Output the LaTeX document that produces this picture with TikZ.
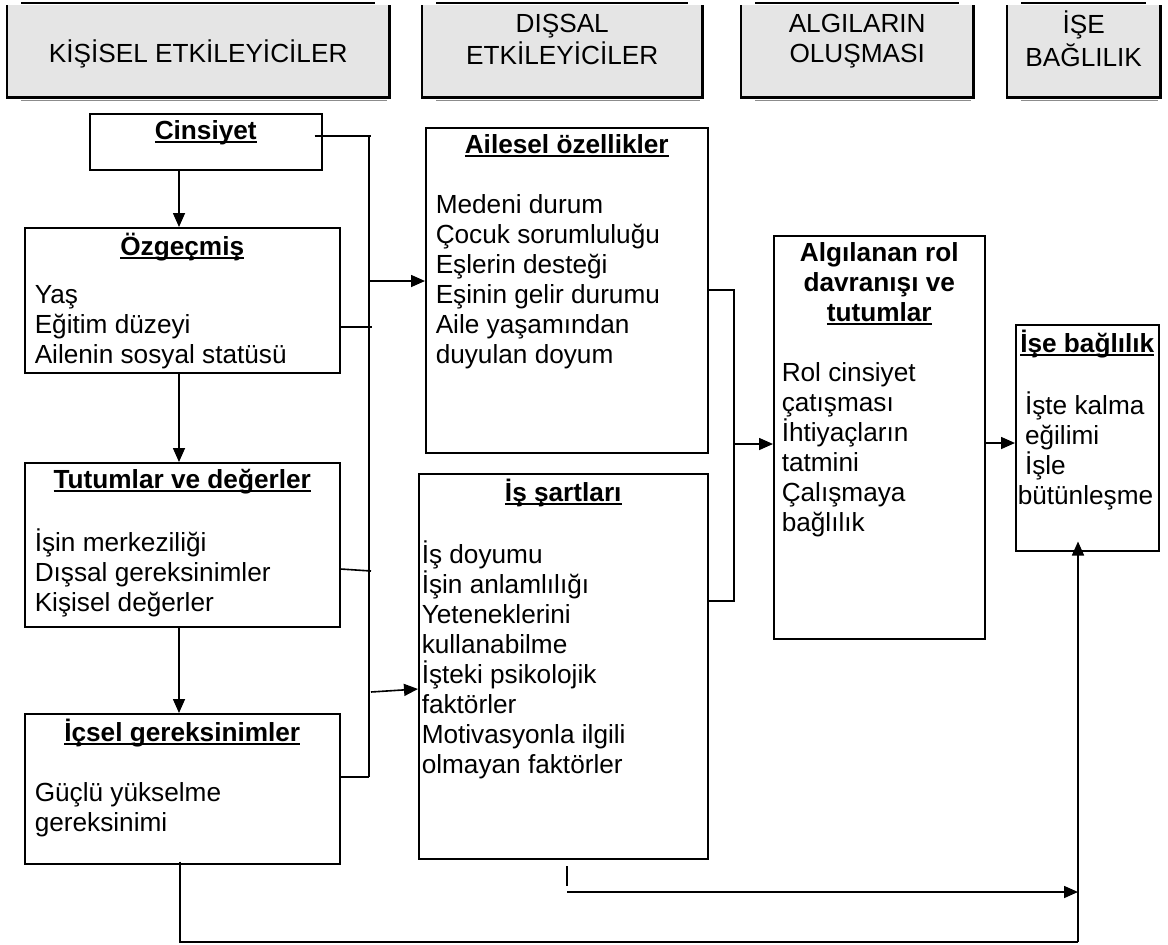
\documentclass[tikz,border=0pt]{standalone}
\usepackage{fontspec}
\setmainfont{Liberation Sans}
\usetikzlibrary{arrows.meta}

% body font: one size, fixed line spacing
\newcommand\bodyfont{\fontsize{26.2}{30}\selectfont}
% thick underline for the box titles
\newcommand\ult[1]{\setbox0\hbox{#1}\rlap{\rule[-3.5pt]{\wd0}{2pt}}\box0}
% fixed-size text area, content from the top
\newcommand\bxc[3]{\parbox[c][#2][t]{#1}{#3}}
% title line and body block inside a box
\newcommand\btitle[1]{\vspace*{5pt}{\centering\strut\textbf{#1}\par}}
\newcommand\bbodyg[3]{\vspace{#1}{\raggedright\leftskip=#2\parindent=0pt #3\par}}
\newcommand\bbody[2]{\bbodyg{30pt}{#1}{#2}}

\tikzset{
  every node/.style={font=\bodyfont},
  box/.style={draw, line width=1.5pt, inner sep=0pt, anchor=north west},
  hdr/.style={fill=black!10, inner sep=0pt, anchor=north west},
  hline/.style={line width=2.4pt},
  conn/.style={line width=1.6pt},
  arr/.style={line width=1.6pt, -{Triangle[length=14pt,width=12pt]}},
}

\begin{document}
\begin{tikzpicture}[x=1pt, y=-1pt]
\useasboundingbox (0,0) rectangle (1168,945);

% ---- column headers ----
\node[hdr] (h1) at (7,5) {\bxc{382pt}{92pt}{\vspace*{35pt}\centering\strut KİŞİSEL ETKİLEYİCİLER\par}};
\node[hdr] (h2) at (422,5) {\bxc{280pt}{92pt}{\vspace*{6pt}\centering\strut DIŞSAL\\\strut ETKİLEYİCİLER\par}};
\node[hdr] (h3) at (741,5) {\bxc{232pt}{92pt}{\vspace*{6pt}\centering\strut ALGILARIN\\\strut OLUŞMASI\par}};
\node[hdr] (h4) at (1007,5) {\bxc{153pt}{92pt}{\vspace*{6pt}\centering\strut İŞE\\\strut BAĞLILIK\par}};
\foreach \h in {h1,h2,h3,h4}{
  \draw[hline] ([xshift=14pt,yshift=2pt]\h.north west) -- ([xshift=-14pt,yshift=2pt]\h.north east);
  \draw[hline] (\h.north west) -- (\h.south west) -- (\h.south east) -- (\h.north east);
  \draw[line width=1.5pt, black!45] ([xshift=14pt,yshift=-3pt]\h.south west) -- ([xshift=-2pt,yshift=-3pt]\h.south east);
}

% ---- personal factors ----
\node[box] (cins) at (89,113) {\bxc{232pt}{56pt}{\btitle{\ult{Cinsiyet}}}};
\node[box] (ozg) at (24,227) {\bxc{315pt}{145pt}{\btitle{\ult{Özgeçmiş}}\bbodyg{18pt}{10pt}{Yaş\\Eğitim düzeyi\\Ailenin sosyal statüsü}}};
\node[box] (tut) at (24,462) {\bxc{315pt}{164pt}{\btitle{\ult{Tutumlar ve değerler}}\bbody{10pt}{İşin merkeziliği\\Dışsal gereksinimler\\Kişisel değerler}}};
\node[box] (ics) at (24,713) {\bxc{315pt}{150pt}{\btitle{\ult{İçsel gereksinimler}}\bbody{10pt}{Güçlü yükselme\\gereksinimi}}};

% ---- external factors ----
\node[box] (ail) at (425,127) {\bxc{282pt}{325pt}{\btitle{\ult{Ailesel özellikler}}\bbody{10pt}{Medeni durum\\Çocuk sorumluluğu\\Eşlerin desteği\\Eşinin gelir durumu\\Aile yaşamından\\duyulan doyum}}};
\node[box] (isart) at (418,473) {\bxc{289pt}{385pt}{\btitle{\ult{İş şartları}}\bbody{3pt}{İş doyumu\\İşin anlamlılığı\\Yeteneklerini\\kullanabilme\\İşteki psikolojik\\faktörler\\Motivasyonla ilgili\\olmayan faktörler}}};

% ---- perceptions ----
\node[box] (alg) at (773,235) {\bxc{211pt}{403pt}{\vspace*{5pt}{\centering\bfseries\strut Algılanan rol\\\strut davranışı ve\\\strut\ult{tutumlar}\par}\bbody{8pt}{Rol cinsiyet\\çatışması\\İhtiyaçların\\tatmini\\Çalışmaya\\bağlılık}}};

% ---- commitment ----
\node[box] (bag) at (1015,324) {\bxc{143pt}{226pt}{\btitle{\ult{İşe bağlılık}}\bbody{2pt}{\ İşte kalma\\\ eğilimi\\\ İşle\\bütünleşme}}};

% ---- connectors ----
\coordinate (busT) at (369,136);
\coordinate (busB) at (369,777);
\draw[conn] ([xshift=-8pt]cins.east |- busT) -- ([xshift=2pt]busT);
\draw[conn] (busT) -- (busB);
\draw[conn] (ozg.east |- 0,327) -- (372,327);
\draw[conn] (tut.east |- 0,569) -- (371,571);
\draw[conn] (ics.east |- busB) -- (busB);
\draw[arr] (369,281) -- (ail.west |- 0,281);
\draw[arr] (371,692) -- (isart.west |- 0,689);

\draw[arr] (cins.south -| 179,0) -- (ozg.north -| 179,0);
\draw[arr] (ozg.south -| 179,0) -- (tut.north -| 179,0);
\draw[arr] (tut.south -| 179,0) -- (ics.north -| 179,0);

\coordinate (brT) at (734,290);
\coordinate (brB) at (734,601);
\draw[conn] (ail.east |- brT) -- (brT) -- (brB) -- (isart.east |- brB);
\draw[arr] (734,444) -- (alg.west |- 0,444);
\draw[arr] (alg.east |- 0,443) -- (bag.west |- 0,443);

\coordinate (lowR) at (1078,942);
\draw[conn] (567,866) -- (567,886);
\draw[arr] (567,892) -- (1078,892);
\draw[conn] ([yshift=3pt]ics.south -| 180,0) -- (180,942) -- (lowR);
\draw[arr] (lowR) -- ([yshift=10pt]bag.south -| lowR);
\end{tikzpicture}
\end{document}
